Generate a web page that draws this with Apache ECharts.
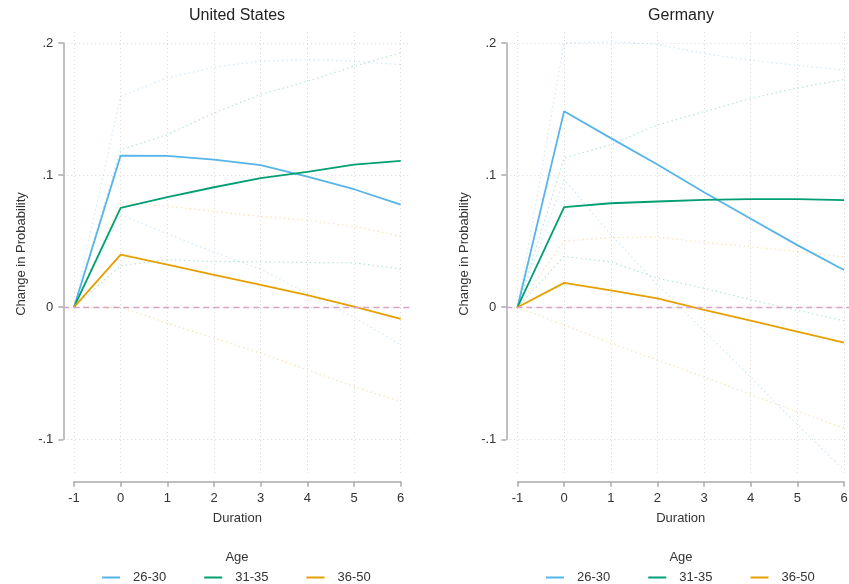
<!DOCTYPE html>
<html><head><meta charset="utf-8">
<script src="https://cdn.jsdelivr.net/npm/echarts@6/dist/echarts.min.js"></script>
<style>html,body{margin:0;padding:0;background:#fff}#c{width:849px;height:584px}</style>
</head><body><div id="c"></div>
<script>
// ---------------- data ----------------
const panelTitles = ['United States', 'Germany'];
const duration = [-1, 0, 1, 2, 3, 4, 5, 6];
const ageGroups = ['26-30', '31-35', '36-50'];
const yTickValues = [-0.1, 0, 0.1, 0.2];
const yTickLabels = ['-.1', '0', '.1', '.2'];
const xTickLabels = ['-1', '0', '1', '2', '3', '4', '5', '6'];

const us_26_30 = [0, 0.1148, 0.1145, 0.1117, 0.1075, 0.0989, 0.0893, 0.0777];
const us_31_35 = [0, 0.0752, 0.0833, 0.0908, 0.0977, 0.1024, 0.1080, 0.1107];
const us_36_50 = [0, 0.0398, 0.0322, 0.0245, 0.0169, 0.0092, 0.0005, -0.0089];
const us_26_30_hi = [0, 0.1597, 0.1735, 0.1817, 0.1862, 0.1874, 0.1862, 0.1837];
const us_26_30_lo = [0, 0.0699, 0.0555, 0.0417, 0.0288, 0.0104, -0.0076, -0.0283];
const us_31_35_hi = [0, 0.1190, 0.1307, 0.1470, 0.1610, 0.1710, 0.1824, 0.1925];
const us_31_35_lo = [0, 0.0314, 0.0359, 0.0346, 0.0344, 0.0338, 0.0336, 0.0289];
const us_36_50_hi = [0, 0.0796, 0.0765, 0.0725, 0.0686, 0.0659, 0.0611, 0.0537];
const us_36_50_lo = [0, 0.0000, -0.0121, -0.0235, -0.0348, -0.0475, -0.0601, -0.0715];

const de_26_30 = [0, 0.1484, 0.1280, 0.1080, 0.0870, 0.0670, 0.0470, 0.0282];
const de_31_35 = [0, 0.0757, 0.0787, 0.0800, 0.0812, 0.0818, 0.0818, 0.0810];
const de_36_50 = [0, 0.0184, 0.0128, 0.0066, -0.0020, -0.0101, -0.0184, -0.0268];
const de_26_30_hi = [0, 0.2000, 0.2010, 0.1990, 0.1920, 0.1870, 0.1830, 0.1796];
const de_26_30_lo = [0, 0.0968, 0.0550, 0.0170, -0.0180, -0.0530, -0.0890, -0.1232];
const de_31_35_hi = [0, 0.1130, 0.1230, 0.1380, 0.1480, 0.1580, 0.1660, 0.1723];
const de_31_35_lo = [0, 0.0384, 0.0344, 0.0220, 0.0144, 0.0056, -0.0024, -0.0103];
const de_36_50_hi = [0, 0.0502, 0.0526, 0.0532, 0.0490, 0.0458, 0.0422, 0.0380];
const de_36_50_lo = [0, -0.0134, -0.0270, -0.0400, -0.0530, -0.0660, -0.0790, -0.0916];

// ---------------- styling / layout ----------------
const colors = ['#56B4E9', '#009E73', '#E69F00'];
const FONT = 'Liberation Sans, Arial, Helvetica, sans-serif';
const TEXT = '#333333';
const AXIS = '#ababab';
const GRIDC = '#d9d9d9';
const ZERO = '#d8a2c6';

const layout = [
  {frameL: 74, frameR: 400.7, plotL: 63.3, plotR: 410, center: 237},
  {frameL: 517.5, frameR: 844, plotL: 506.3, plotR: 853, center: 681}
];
const frameT = 43, frameB = 439.3, plotT = 32, plotB = 476, xAxisY = 481.7;

const panels = [
  {est: [us_26_30, us_31_35, us_36_50], hi: [us_26_30_hi, us_31_35_hi, us_36_50_hi], lo: [us_26_30_lo, us_31_35_lo, us_36_50_lo]},
  {est: [de_26_30, de_31_35, de_36_50], hi: [de_26_30_hi, de_31_35_hi, de_36_50_hi], lo: [de_26_30_lo, de_31_35_lo, de_36_50_lo]}
];

function pairs(ys) { return duration.map((x, i) => [x, ys[i]]); }
function fadeColor(hex, a) {
  const n = parseInt(hex.slice(1), 16);
  return 'rgba(' + ((n >> 16) & 255) + ',' + ((n >> 8) & 255) + ',' + (n & 255) + ',' + a + ')';
}

const grids = [], xAxes = [], yAxes = [], series = [], titles = [], legends = [];
const xMinTick = duration[0], xMaxTick = duration[duration.length - 1];
const yMinTick = yTickValues[0], yMaxTick = yTickValues[yTickValues.length - 1];

layout.forEach((L, p) => {
  const pxX = (L.frameR - L.frameL) / (xMaxTick - xMinTick);
  const pxY = (frameB - frameT) / (yMaxTick - yMinTick);
  const xmin = xMinTick - (L.frameL - L.plotL) / pxX;
  const xmax = xMaxTick + (L.plotR - L.frameR) / pxX;
  const ymax = yMaxTick + (frameT - plotT) / pxY;
  const ymin = yMinTick - (plotB - frameB) / pxY;

  const gPlot = grids.length;
  grids.push({left: L.plotL, top: plotT, width: L.plotR - L.plotL, height: plotB - plotT, outerBoundsMode: 'none', containLabel: false});
  const gFrame = grids.length;
  grids.push({left: L.frameL, top: frameT, width: L.frameR - L.frameL, height: frameB - frameT, outerBoundsMode: 'none', containLabel: false});

  // plot region axes: grid lines + y title
  const xiPlot = xAxes.length;
  xAxes.push({type: 'value', gridIndex: gPlot, min: xmin, max: xmax, minInterval: 1, maxInterval: 1,
    axisLine: {show: false, onZero: false}, axisTick: {show: false}, axisLabel: {show: false},
    splitLine: {show: true, showMinLine: false, showMaxLine: false, lineStyle: {color: GRIDC, type: [1, 3], width: 1}}});
  const yiPlot = yAxes.length;
  yAxes.push({type: 'value', gridIndex: gPlot, min: ymin, max: ymax, minInterval: 0.1, maxInterval: 0.1,
    axisLine: {show: false, onZero: false}, axisTick: {show: false}, axisLabel: {show: false},
    splitLine: {show: true, showMinLine: false, showMaxLine: false, lineStyle: {color: GRIDC, type: [1, 3], width: 1}},
    name: 'Change in Probability', nameLocation: 'middle', nameGap: 35, nameRotate: 90,
    nameTextStyle: {fontFamily: FONT, fontSize: 13, color: TEXT}});

  // frame axes: axis lines, ticks, labels
  xAxes.push({type: 'value', gridIndex: gFrame, min: xMinTick, max: xMaxTick, interval: 1, position: 'bottom',
    offset: xAxisY - frameB,
    axisLine: {show: true, onZero: false, lineStyle: {color: AXIS, width: 1.5}},
    axisTick: {show: true, length: 5, lineStyle: {color: AXIS, width: 1.5}},
    axisLabel: {show: true, margin: 10, fontFamily: FONT, fontSize: 13, color: TEXT,
      formatter: v => xTickLabels[duration.indexOf(Math.round(v))]},
    splitLine: {show: false},
    name: 'Duration', nameLocation: 'middle', nameGap: 30,
    nameTextStyle: {fontFamily: FONT, fontSize: 13, color: TEXT}});
  yAxes.push({type: 'value', gridIndex: gFrame, min: yMinTick, max: yMaxTick, interval: 0.1, position: 'left',
    offset: L.frameL - L.plotL,
    axisLine: {show: true, onZero: false, lineStyle: {color: AXIS, width: 1.5}},
    axisTick: {show: true, length: 5, lineStyle: {color: AXIS, width: 1.5}},
    axisLabel: {show: true, margin: 10, fontFamily: FONT, fontSize: 13, color: TEXT,
      formatter: v => yTickLabels[Math.round((v - yMinTick) * 10)]},
    splitLine: {show: false}});

  const P = panels[p];
  // zero reference line
  series.push({type: 'line', xAxisIndex: xiPlot, yAxisIndex: yiPlot, data: [], silent: true, z: 1,
    markLine: {silent: true, symbol: 'none', label: {show: false}, animation: false,
      lineStyle: {color: ZERO, type: [6, 4], width: 1.3}, data: [{yAxis: 0}]}});
  // confidence bands
  ageGroups.forEach((g, k) => {
    [P.hi[k], P.lo[k]].forEach(arr => {
      series.push({type: 'line', xAxisIndex: xiPlot, yAxisIndex: yiPlot, data: pairs(arr), symbol: 'none',
        silent: true, z: 2, lineStyle: {color: fadeColor(colors[k], 0.28), width: 1.2, type: [1.5, 3]}});
    });
  });
  // estimates
  ageGroups.forEach((g, k) => {
    series.push({type: 'line', name: g, xAxisIndex: xiPlot, yAxisIndex: yiPlot, data: pairs(P.est[k]),
      symbol: 'none', z: 3, color: colors[k], lineStyle: {color: colors[k], width: 1.8}});
  });

  titles.push({text: panelTitles[p], left: L.center, textAlign: 'center', top: 8, padding: 0,
    textStyle: {fontFamily: FONT, fontSize: 16, fontWeight: 'normal', color: '#222'}});
  titles.push({text: 'Age', left: L.center, textAlign: 'center', top: 551, padding: 0,
    textStyle: {fontFamily: FONT, fontSize: 13, fontWeight: 'normal', color: TEXT}});
  legends.push({data: ageGroups.map(g => ({name: g, icon: 'rect'})), left: L.center - 135, top: 571, padding: 0,
    itemWidth: 18, itemHeight: 2, itemGap: 38, selectedMode: false,
    textStyle: {fontFamily: FONT, fontSize: 13, color: TEXT, padding: [0, 0, 0, 8]}});
});

const chart = echarts.init(document.getElementById('c'), null, {renderer: 'canvas'});
chart.setOption({
  animation: false,
  backgroundColor: '#ffffff',
  title: titles,
  legend: legends,
  grid: grids,
  xAxis: xAxes,
  yAxis: yAxes,
  series: series
});
</script>
</body></html>
